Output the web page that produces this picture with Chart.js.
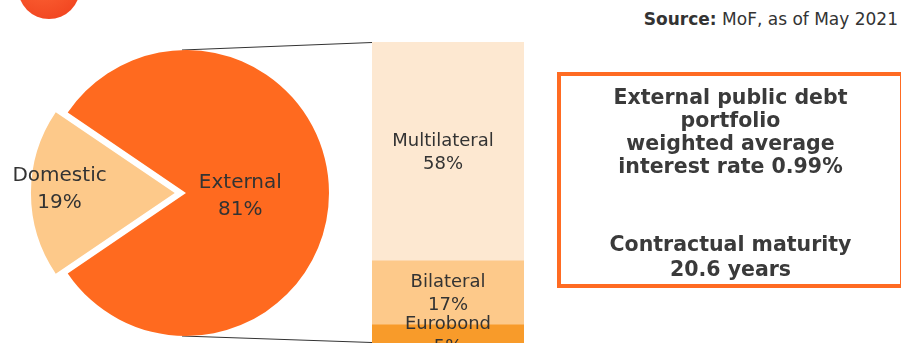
<!DOCTYPE html>
<html>
<head>
<meta charset="utf-8">
<script src="https://cdn.jsdelivr.net/npm/chart.js@4/dist/chart.umd.min.js"></script>
<style>
    body { margin: 0; width: 901px; height: 353px; overflow: hidden; background: #fff; position: relative; font-family: 'DejaVu Sans', sans-serif; color: #333; }
    #dot { position: absolute; left: 18px; top: -43px; width: 62px; height: 62px; border-radius: 50%; background: radial-gradient(circle at 40% 30%, #ff6a3a, #ee3d1a); }
    #source { position: absolute; right: 3px; top: 9px; font-size: 17px; color: #333; }
    #pie { position: absolute; left: 0; top: 43px; }
    #bar { position: absolute; left: 372px; top: 42px; }
    #links { position: absolute; left: 0; top: 0; }
    #box { position: absolute; left: 557px; top: 72px; width: 347px; height: 216px; box-sizing: border-box; border: 4px solid #ff6b22; text-align: center; font-weight: 700; font-size: 20.5px; color: #3a3a3a; }
    #box p { margin: 0; }
    #box .a { position: absolute; left: 0; right: 0; top: 10px; line-height: 23px; }
    #box .b { position: absolute; left: 0; right: 0; top: 156px; line-height: 25px; }
</style>
</head>
<body>
<div id="dot"></div>
<div id="source"><b>Source:</b> MoF, as of May 2021</div>
<canvas id="links" width="901" height="353"></canvas>
<canvas id="pie" width="372" height="300"></canvas>
<canvas id="bar" width="152" height="301"></canvas>
<div id="box">
    <p class="a">External public debt<br>portfolio<br>weighted average<br>interest rate 0.99%</p>
    <p class="b">Contractual maturity<br>20.6 years</p>
</div>
<script>
// debt split, from MoF
const pieLabels = ['External', 'Domestic'];
const pieValues = [81, 19];
const pieColors = ['#ff6a1f', '#fdc98a'];

// breakdown of the external part
const barLabels = ['Multilateral', 'Bilateral', 'Eurobond'];
const barValues = [58, 17, 5];
const barColors = ['#fde8d1', '#fdc98a', '#f89b2a'];

const TEXT = '#333333';

// turn so that the domestic slice sits on the left
const total = pieValues.reduce((a, b) => a + b, 0);
const domMid = (pieValues[0] + pieValues[1] / 2) / total * 360;
const rotation = 270 - domMid;

function drawLines(ctx, lines, x, y, lh) {
    const top = y - (lines.length - 1) * lh / 2;
    lines.forEach((t, i) => ctx.fillText(t, x, top + i * lh));
}

const pieText = {
    id: 'pieText',
    afterDatasetsDraw(chart) {
        const ctx = chart.ctx;
        const arcs = chart.getDatasetMeta(0).data;
        const place = [0.38, 0.8];
        const nudge = [3, -4];
        ctx.save();
        ctx.font = '20px "DejaVu Sans"';
        ctx.fillStyle = TEXT;
        ctx.textAlign = 'center';
        ctx.textBaseline = 'middle';
        arcs.forEach((arc, i) => {
            const mid = (arc.startAngle + arc.endAngle) / 2;
            const off = (arc.options.offset || 0) / 4;
            const fix = 1 - Math.sin(Math.min(Math.PI, arc.circumference));
            const shift = off * (1 + fix);
            const cx = arc.x + Math.cos(mid) * shift;
            const cy = arc.y + Math.sin(mid) * shift;
            const d = arc.outerRadius * place[i];
            drawLines(ctx, [pieLabels[i], pieValues[i] + '%'],
                cx + Math.cos(mid) * d, cy + Math.sin(mid) * d + nudge[i], 27);
        });
        ctx.restore();
    }
};

const barText = {
    id: 'barText',
    afterDatasetsDraw(chart) {
        const ctx = chart.ctx;
        ctx.save();
        ctx.font = '18px "DejaVu Sans"';
        ctx.fillStyle = TEXT;
        ctx.textAlign = 'center';
        ctx.textBaseline = 'middle';
        chart.data.datasets.forEach((ds, i) => {
            const bar = chart.getDatasetMeta(i).data[0];
            const mid = (bar.y + bar.base) / 2;
            const dx = i === 0 ? -5 : 0;
            drawLines(ctx, [barLabels[i], ds.data[0] + '%'], bar.x + dx, mid + 2, 23);
        });
        ctx.restore();
    }
};

const pieChart = new Chart(document.getElementById('pie'), {
    type: 'pie',
    data: {
        labels: pieLabels,
        datasets: [{
            data: pieValues,
            backgroundColor: pieColors,
            borderWidth: 0,
            offset: [0, 45]
        }]
    },
    options: {
        responsive: false,
        animation: false,
        rotation: rotation,
        radius: 143,
        layout: { padding: 0 },
        plugins: { legend: { display: false }, tooltip: { enabled: false } }
    },
    plugins: [pieText]
});

const barChart = new Chart(document.getElementById('bar'), {
    type: 'bar',
    data: {
        labels: ['External'],
        datasets: barLabels.map((name, i) => ({
            label: name,
            data: [barValues[i]],
            backgroundColor: barColors[i],
            borderWidth: 0,
            barPercentage: 1,
            categoryPercentage: 1
        }))
    },
    options: {
        responsive: false,
        animation: false,
        layout: { padding: 0 },
        scales: {
            x: { stacked: true, display: false },
            y: { stacked: true, display: false, min: 0, max: barValues.reduce((a, b) => a + b, 0), reverse: true }
        },
        plugins: { legend: { display: false }, tooltip: { enabled: false } }
    },
    plugins: [barText]
});

// connector lines from the pie to the bar
const lctx = document.getElementById('links').getContext('2d');
const arc = pieChart.getDatasetMeta(0).data[0];
const pieBox = document.getElementById('pie').getBoundingClientRect();
const barBox = document.getElementById('bar').getBoundingClientRect();
const px = pieBox.left + arc.x;
const py = pieBox.top + arc.y;
const r = arc.outerRadius;
const area = barChart.chartArea;
lctx.strokeStyle = '#333';
lctx.lineWidth = 1;
lctx.beginPath();
lctx.moveTo(px - 4, py - r);
lctx.lineTo(barBox.left + area.left, barBox.top + area.top + 0.5);
lctx.moveTo(px - 4, py + r);
lctx.lineTo(barBox.left + area.left, barBox.top + area.bottom - 0.5);
lctx.stroke();
</script>
</body>
</html>
